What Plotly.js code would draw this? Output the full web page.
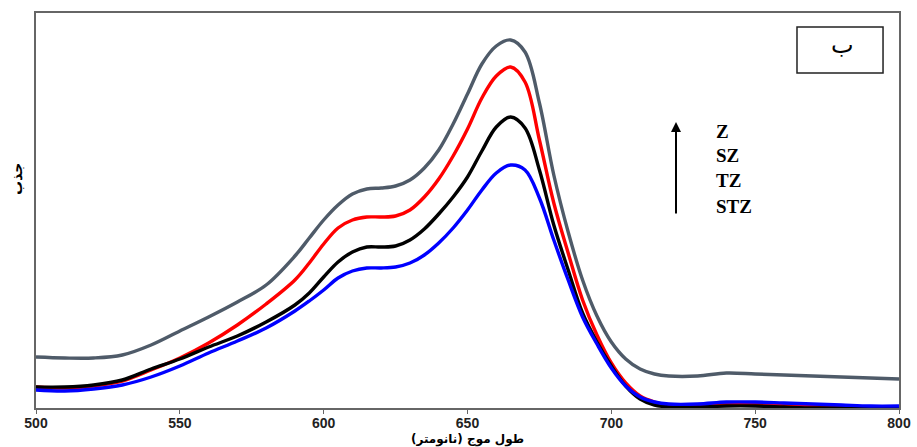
<!DOCTYPE html>
<html>
<head>
<meta charset="utf-8">
<script src="https://cdn.plot.ly/plotly-3.0.1.min.js"></script>
<style>
html,body{margin:0;padding:0;background:#fff;}
#chart{width:917px;height:447px;}
</style>
</head>
<body>
<div id="chart"></div>
<script>
// wavelength (nm)
const wavelength = [500,510,520,530,540,550,560,570,580,590,595,600,605,610,615,620,625,630,635,640,645,650,655,660,665,670,675,680,685,690,695,700,705,710,715,720,730,740,750,760,770,780,790,800];
// absorbance (arbitrary units)
const absZ   = [0.51,0.50,0.50,0.53,0.63,0.77,0.91,1.06,1.23,1.52,1.70,1.88,2.03,2.14,2.19,2.20,2.22,2.28,2.40,2.58,2.84,3.14,3.44,3.62,3.68,3.56,3.05,2.33,1.76,1.28,0.92,0.66,0.49,0.39,0.34,0.32,0.32,0.35,0.34,0.33,0.32,0.31,0.30,0.29];
const absSZ  = [0.21,0.20,0.22,0.27,0.38,0.50,0.65,0.83,1.04,1.28,1.45,1.64,1.80,1.88,1.91,1.91,1.92,1.98,2.11,2.29,2.52,2.79,3.10,3.32,3.41,3.26,2.68,2.05,1.55,1.08,0.73,0.45,0.25,0.12,0.06,0.03,0.02,0.04,0.04,0.03,0.02,0.02,0.01,0.01];
const absTZ  = [0.21,0.21,0.23,0.28,0.39,0.49,0.61,0.72,0.86,1.03,1.15,1.31,1.46,1.56,1.61,1.61,1.62,1.68,1.79,1.94,2.11,2.31,2.57,2.81,2.91,2.80,2.38,1.83,1.38,0.95,0.66,0.42,0.22,0.09,0.03,0.01,0.01,0.02,0.02,0.01,0.00,0.00,0.00,0.00];
const absSTZ = [0.18,0.17,0.19,0.23,0.31,0.42,0.55,0.67,0.80,0.97,1.07,1.18,1.30,1.37,1.40,1.40,1.41,1.45,1.53,1.65,1.80,1.98,2.18,2.35,2.43,2.38,2.10,1.68,1.28,0.91,0.64,0.40,0.22,0.11,0.06,0.04,0.04,0.06,0.06,0.05,0.04,0.03,0.02,0.02];

const seriesNames = ['Z','SZ','TZ','STZ'];
const seriesColors = ['#4f5b69','#ff0000','#000000','#0000ff'];
const seriesData = [absZ, absSZ, absTZ, absSTZ];
const xTicks = [500,550,600,650,700,750,800];

const traces = seriesData.map((ys,i)=>({
  x: wavelength, y: ys, type:'scatter', mode:'lines', name: seriesNames[i],
  line:{color:seriesColors[i], width:3.4, shape:'spline', smoothing:1},
  hoverinfo:'x+y+name'
}));

const labelY = [0.701,0.638,0.575,0.509];
const annotations = seriesNames.map((n,i)=>({
  xref:'paper', yref:'paper', x:0.7856, y:labelY[i], xanchor:'left', yanchor:'middle',
  text:'<b>'+n+'</b>', showarrow:false,
  font:{family:'Liberation Serif, serif', size:19, color:'#000'}
}));
annotations.push({
  xref:'paper', yref:'paper', x:0.7416, y:0.724, text:'', showarrow:true,
  arrowhead:2, arrowsize:1, arrowwidth:2, arrowcolor:'#000', ax:0, ay:93
});
annotations.push({
  xref:'paper', yref:'paper', x:0.9316, y:0.906, xanchor:'center', yanchor:'middle',
  text:'ب', showarrow:false, yshift:7, xshift:3,
  font:{family:'Noto Sans, DejaVu Sans, sans-serif', size:24, color:'#000'}
});
annotations.push({
  xref:'paper', yref:'paper', x:-0.022, y:0.58, xanchor:'center', yanchor:'middle',
  text:'<b>جذب</b>', showarrow:false, textangle:-90,
  font:{family:'DejaVu Sans, sans-serif', size:14, color:'#000'}
});
annotations.push({
  xref:'paper', yref:'paper', x:0.5, y:-0.081, xanchor:'center', yanchor:'middle',
  text:'<b>طول موج (نانومتر)</b>', showarrow:false,
  font:{family:'DejaVu Sans, sans-serif', size:12, color:'#000'}
});

const layout = {
  width:917, height:447,
  margin:{l:36, r:18, t:13, b:39},
  paper_bgcolor:'#fff', plot_bgcolor:'#fff',
  showlegend:false,
  xaxis:{
    range:[500,800], tickvals:xTicks, ticktext:xTicks.map(String),
    showline:true, mirror:true, linecolor:'#666', linewidth:2,
    ticks:'outside', ticklen:4, tickcolor:'#666', tickwidth:1,
    ticklabelstandoff:-3,
    showgrid:false, zeroline:false,
    tickfont:{family:'Liberation Sans Narrow, Liberation Sans, Arial, sans-serif', size:14, color:'#222', weight:700}
  },
  yaxis:{
    range:[0,3.95], showline:true, mirror:true, linecolor:'#666', linewidth:2,
    ticks:'', showticklabels:false, showgrid:false, zeroline:false
  },
  shapes:[{type:'rect', xref:'paper', yref:'paper', x0:0.8818, x1:0.9815, y0:0.848, y1:0.9646,
    line:{color:'#222', width:1.5}, fillcolor:'rgba(0,0,0,0)'}],
  annotations: annotations
};

Plotly.newPlot('chart', traces, layout, {displayModeBar:false, staticPlot:true});
</script>
</body>
</html>
